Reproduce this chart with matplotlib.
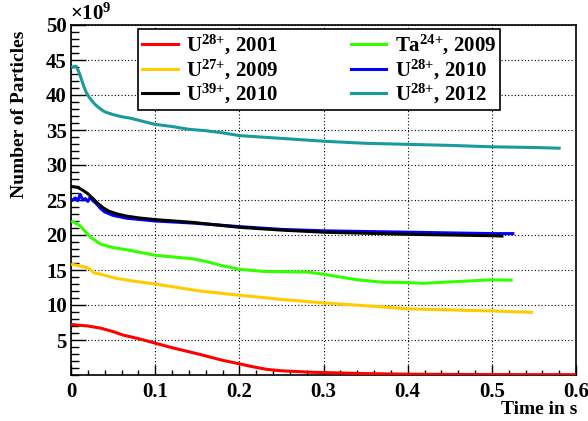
import matplotlib

matplotlib.use("Agg")
import matplotlib.pyplot as plt
from matplotlib.ticker import MultipleLocator, FixedLocator

# time (s) and number of particles (x 1e9)
t_u28_2001 = [0.002, 0.02, 0.035, 0.05, 0.062, 0.08, 0.1, 0.12, 0.153, 0.18, 0.2, 0.215,
              0.233, 0.25, 0.284, 0.3, 0.35, 0.4, 0.45, 0.5, 0.55, 0.6]
n_u28_2001 = [7.2, 7.0, 6.7, 6.2, 5.7, 5.2, 4.55, 3.9, 2.95, 2.1, 1.6, 1.2,
              0.8, 0.6, 0.4, 0.35, 0.2, 0.12, 0.08, 0.06, 0.05, 0.05]

t_u27_2009 = [0.002, 0.01, 0.02, 0.024, 0.027, 0.035, 0.054, 0.075, 0.1, 0.153, 0.2,
              0.25, 0.3, 0.35, 0.4, 0.45, 0.5, 0.547]
n_u27_2009 = [15.8, 15.6, 15.3, 15.0, 14.6, 14.4, 13.8, 13.4, 13.0, 12.0, 11.4,
              10.8, 10.3, 9.9, 9.45, 9.3, 9.15, 8.95]

t_u39_2010 = [0.002, 0.008, 0.014, 0.02, 0.026, 0.032, 0.038, 0.045, 0.055, 0.066,
              0.08, 0.1, 0.145, 0.2, 0.25, 0.3, 0.35, 0.4, 0.45, 0.5, 0.512]
n_u39_2010 = [26.9, 26.8, 26.4, 25.9, 25.2, 24.5, 23.9, 23.4, 23.0, 22.7,
              22.45, 22.2, 21.8, 21.1, 20.7, 20.4, 20.25, 20.1, 20.0, 19.9, 19.85]

t_ta24_2009 = [0.002, 0.01, 0.017, 0.023, 0.035, 0.05, 0.066, 0.1, 0.145, 0.161, 0.18,
               0.2, 0.229, 0.281, 0.3, 0.34, 0.371, 0.4, 0.419, 0.459, 0.5, 0.523]
n_ta24_2009 = [21.9, 21.4, 20.5, 19.7, 18.7, 18.2, 17.9, 17.1, 16.6, 16.2, 15.6,
               15.1, 14.8, 14.7, 14.4, 13.6, 13.25, 13.2, 13.1, 13.35, 13.6, 13.55]

t_u28_2010 = [0.002, 0.005, 0.008, 0.011, 0.014, 0.017, 0.02, 0.023, 0.026, 0.03, 0.035,
              0.04, 0.05, 0.066, 0.1, 0.145, 0.2, 0.25, 0.3, 0.35, 0.4, 0.45, 0.5, 0.525]
n_u28_2010 = [25.0, 25.3, 24.9, 25.8, 25.0, 25.2, 24.8, 25.4, 24.9, 24.5, 23.8,
              23.3, 22.8, 22.4, 22.0, 21.7, 21.2, 20.8, 20.6, 20.5, 20.4, 20.3, 20.2, 20.2]

t_u28_2012 = [0.002, 0.006, 0.009, 0.012, 0.015, 0.018, 0.022, 0.026, 0.03, 0.035, 0.04,
              0.05, 0.06, 0.07, 0.08, 0.09, 0.1, 0.12, 0.14, 0.16, 0.18, 0.2, 0.25,
              0.3, 0.35, 0.4, 0.45, 0.5, 0.55, 0.58]
n_u28_2012 = [44.0, 44.1, 43.4, 42.4, 41.3, 40.4, 39.6, 39.0, 38.5, 38.0, 37.6,
              37.2, 36.9, 36.7, 36.4, 36.1, 35.8, 35.5, 35.1, 34.9, 34.6, 34.2, 33.8,
              33.4, 33.1, 32.95, 32.8, 32.6, 32.5, 32.4]

labels = ["U$^{28{+}}$, 2001", "U$^{27{+}}$, 2009", "U$^{39{+}}$, 2010",
          "Ta$^{24{+}}$, 2009", "U$^{28{+}}$, 2010", "U$^{28{+}}$, 2012"]
colors = ["#ff0000", "#ffcc00", "#000000", "#33ff00", "#0000ff", "#1a9a9a"]
x_ticks = [0, 0.1, 0.2, 0.3, 0.4, 0.5, 0.6]
y_ticks = [5, 10, 15, 20, 25, 30, 35, 40, 45, 50]

plt.rcParams.update({
    "font.family": "Liberation Serif",
    "font.weight": "bold",
    "mathtext.fontset": "custom",
    "mathtext.rm": "Liberation Serif:bold",
    "mathtext.bf": "Liberation Serif:bold",
    "mathtext.default": "rm",
})

fig = plt.figure(figsize=(5.88, 4.21), dpi=100)
ax = fig.add_axes([71 / 588, 46 / 421, 505 / 588, 350 / 421])

series = [
    (t_u28_2001, n_u28_2001),
    (t_u27_2009, n_u27_2009),
    (t_u39_2010, n_u39_2010),
    (t_ta24_2009, n_ta24_2009),
    (t_u28_2010, n_u28_2010),
    (t_u28_2012, n_u28_2012),
]
order = [0, 1, 3, 4, 2, 5]  # blue drawn before black
lines = {}
for i in order:
    t, n = series[i]
    (ln,) = ax.plot(t, n, color=colors[i], lw=2.2, label=labels[i], zorder=3)
    lines[i] = ln

ax.set_xlim(0, 0.6)
ax.set_ylim(0, 50)
ax.xaxis.set_major_locator(FixedLocator(x_ticks))
ax.xaxis.set_minor_locator(MultipleLocator(0.02))
ax.yaxis.set_major_locator(FixedLocator(y_ticks))
ax.yaxis.set_minor_locator(MultipleLocator(1))
ax.set_xticklabels(["0", "0.1", "0.2", "0.3", "0.4", "0.5", "0.6"])
ax.set_yticklabels([str(v) for v in y_ticks])
ax.tick_params(axis="both", which="both", direction="in", labelsize=15, width=1.0)
ax.tick_params(axis="y", which="major", length=10.8, pad=3)
ax.tick_params(axis="y", which="minor", length=5.4)
ax.tick_params(axis="x", which="major", length=7.2, pad=5)
ax.tick_params(axis="x", which="minor", length=3.6)
ax.grid(True, which="major", color="black", lw=0.8, linestyle=(0, (1, 2)))
for s in ax.spines.values():
    s.set_linewidth(1.2)

handles = [lines[i] for i in range(6)]
leg = ax.legend(handles, labels, ncol=2, loc="upper left",
                bbox_to_anchor=(0.1327, 0.9886), borderaxespad=0,
                fontsize=15, frameon=True, fancybox=False, framealpha=1,
                edgecolor="black", handlelength=1.7, handletextpad=0.4,
                columnspacing=3.5, labelspacing=0.02, borderpad=0.2)
leg.get_frame().set_linewidth(1.2)

fig.text(70 / 588, 1 - 20 / 421, "×10$^{9}$", fontsize=15, va="baseline", ha="left")
fig.text(20 / 588, 1 - 114 / 421, "Number of Particles", fontsize=14,
         rotation=90, ha="center", va="center")
fig.text(577 / 588, 1 - 409 / 421, "Time in s", fontsize=14, ha="right", va="center")

fig.savefig("out.png", dpi=100)
